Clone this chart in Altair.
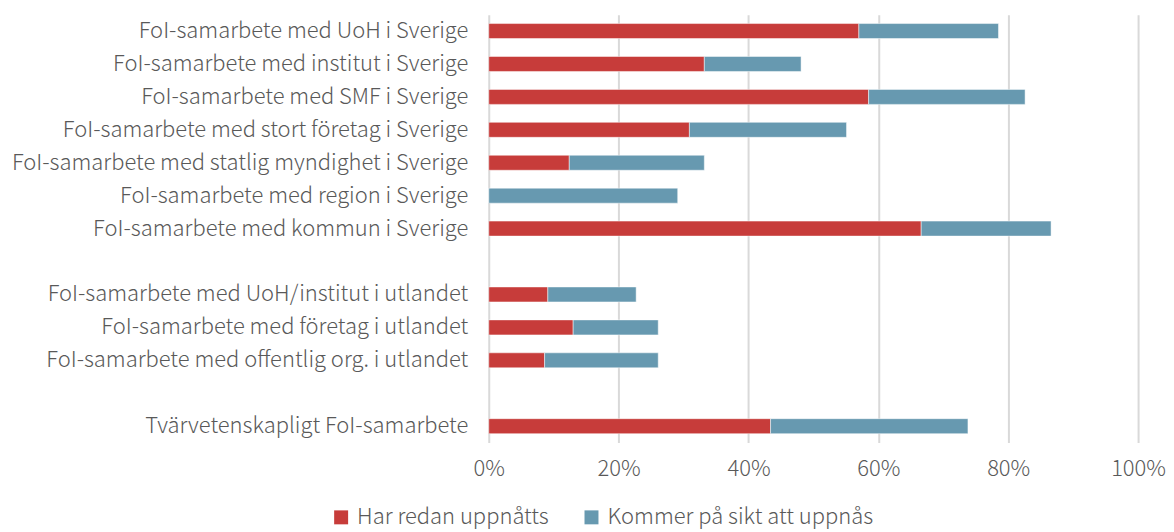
import altair as alt
import pandas as pd

categories = [
    "FoI-samarbete med UoH i Sverige",
    "FoI-samarbete med institut i Sverige",
    "FoI-samarbete med SMF i Sverige",
    "FoI-samarbete med stort företag i Sverige",
    "FoI-samarbete med statlig myndighet i Sverige",
    "FoI-samarbete med region i Sverige",
    "FoI-samarbete med kommun i Sverige",
    " ",
    "FoI-samarbete med UoH/institut i utlandet",
    "FoI-samarbete med företag i utlandet",
    "FoI-samarbete med offentlig org. i utlandet",
    "  ",
    "Tvärvetenskapligt FoI-samarbete",
]
# None = spacer row
har_redan = [57.0, 33.2, 58.5, 30.9, 12.4, 0.0, 66.6, None, 9.1, 13.0, 8.6, None, 43.4]
kommer = [21.5, 14.9, 24.1, 24.2, 20.8, 29.1, 20.0, None, 13.6, 13.1, 17.5, None, 30.4]
series = ["Har redan uppnåtts", "Kommer på sikt att uppnås"]
colors = ["#C73C3A", "#6799B0"]

rows = []
for c, a, b in zip(categories, har_redan, kommer):
    if a is None:
        continue
    rows.append({"cat": c, "serie": series[0], "val": a / 100, "ord": 0})
    rows.append({"cat": c, "serie": series[1], "val": b / 100, "ord": 1})
df = pd.DataFrame(rows)

FONT = "Noto Sans CJK JP"
GRAY = "#595959"
FS = 22

chart = alt.Chart(df).mark_bar(
    stroke="white", strokeWidth=0.8, strokeOpacity=0.6
).encode(
    y=alt.Y("cat:N", sort=categories, scale=alt.Scale(domain=categories, paddingInner=0.545, paddingOuter=0.27),
            axis=alt.Axis(title=None, ticks=False, domain=False, labelPadding=21, labelFontSize=FS,
                          labelColor=GRAY, labelFont=FONT, labelFontWeight=300, labelLimit=600,
                          minExtent=482, maxExtent=482, grid=False)),
    x=alt.X("val:Q", stack="zero", scale=alt.Scale(domain=[0, 1], nice=False),
            axis=alt.Axis(title=None, format=".0%", values=[0, 0.2, 0.4, 0.6, 0.8, 1.0], ticks=False,
                          domain=False, labelPadding=16, labelFontSize=FS, labelColor=GRAY, labelFont=FONT,
                          labelFontWeight=300, gridColor="#D9D9D9", gridWidth=2, labelFlush=False)),
    color=alt.Color("serie:N", scale=alt.Scale(domain=series, range=colors),
                    legend=alt.Legend(title=None, orient="none", direction="horizontal",
                                      legendX=-159, legendY=493, symbolType="square", symbolSize=196,
                                      symbolStrokeWidth=0, labelFontSize=FS, labelColor=GRAY, labelFont=FONT,
                                      labelFontWeight=300, columnPadding=31, labelOffset=5, labelLimit=400)),
    order=alt.Order("ord:Q"),
).properties(
    width=651, height=429,
    padding={"left": 0, "top": 6, "right": 0, "bottom": 0},
).configure_view(stroke=None)

chart.save("out.html", embed_options={"renderer": "svg", "actions": False})
